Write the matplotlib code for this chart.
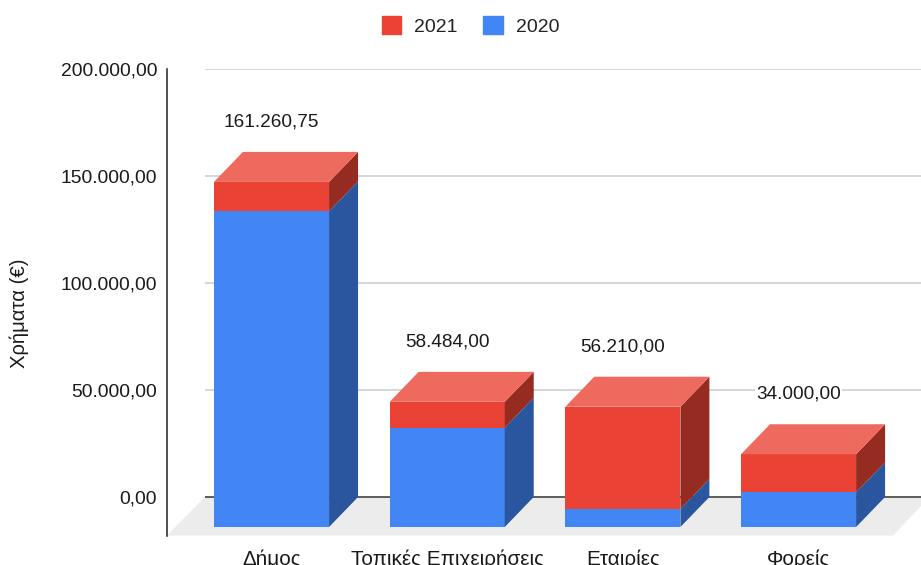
import matplotlib
matplotlib.use('Agg')
import matplotlib.pyplot as plt
from matplotlib.patches import Patch, Polygon

plt.rcParams['font.family'] = ['Liberation Sans', 'DejaVu Sans']

categories = ['Δήμος', 'Τοπικές Επιχειρήσεις', 'Εταιρίες', 'Φορείς']
vals_2020 = [147500, 46400, 8400, 16200]
vals_2021 = [13760.75, 12084, 47810, 17800]
total_labels = ['161.260,75', '58.484,00', '56.210,00', '34.000,00']
y_ticks = [0, 50000, 100000, 150000, 200000]
y_labels = ['0,00', '50.000,00', '100.000,00', '150.000,00', '200.000,00']

BLUE, BLUE_SIDE = '#4285f4', '#2a559f'
RED, RED_SIDE, RED_TOP = '#ea4335', '#962b22', '#ee6a5e'
W, H = 921, 565
bar_w = 0.655
# 3d look: how far the back of a bar sits from its front
depth_x = 0.165
depth_y = 14018
floor_x = 0.216


def box(ax, x, y0, y1, front, side, top=None):
    left, right = x - bar_w / 2, x + bar_w / 2
    ax.bar(x, y1 - y0, bar_w, bottom=y0, color=front, lw=0, zorder=3)
    ax.add_patch(Polygon([(right, y0), (right + depth_x, y0 + depth_y),
                          (right + depth_x, y1 + depth_y), (right, y1)],
                         color=side, lw=0, zorder=3))
    if top:
        ax.add_patch(Polygon([(left, y1), (left + depth_x, y1 + depth_y),
                              (right + depth_x, y1 + depth_y), (right, y1)],
                             color=top, lw=0, zorder=3))


fig = plt.figure(figsize=(W / 100, H / 100), dpi=100)
ax = fig.add_axes([167 / W, (H - 535.5) / H, (W - 167) / W, 466.5 / H])
xmin, xmax = -0.595, 3.697
ymin = -17990
ax.set_xlim(xmin, xmax)
ax.set_ylim(ymin, 200000)

# floor and back wall lines
ax.add_patch(Polygon([(xmin, ymin), (xmin + floor_x, 0), (xmax + 0.05, 0), (xmax - 0.16, ymin)],
                     color='#ececec', lw=0, zorder=1))
ax.hlines(y_ticks[1:], xmin + floor_x, xmax, color='#cccccc', lw=1.1, zorder=2)
ax.hlines(0, xmin + floor_x, xmax, color='#333333', lw=1.1, zorder=2)

for i in range(len(categories)):
    total = vals_2020[i] + vals_2021[i]
    box(ax, i, -depth_y, vals_2020[i] - depth_y, BLUE, BLUE_SIDE)
    box(ax, i, vals_2020[i] - depth_y, total - depth_y, RED, RED_SIDE, RED_TOP)
    ax.annotate(total_labels[i], (i, total), xytext=(0, 21.5), textcoords='offset points',
                ha='center', va='center', fontsize=13.7, color='#1a1a1a', zorder=4,
                bbox=dict(fc='white', ec='none', pad=1))

for s in ['top', 'right', 'bottom']:
    ax.spines[s].set_visible(False)
ax.spines['left'].set_linewidth(1.1)
ax.spines['left'].set_color('#222222')
ax.set_yticks(y_ticks, y_labels, fontsize=13.9, color='#1a1a1a')
ax.set_xticks(range(len(categories)), categories, fontsize=14.9, color='#1a1a1a')
ax.tick_params(axis='y', length=0, pad=7.2)
ax.tick_params(axis='x', length=0, pad=10)
fig.text(19 / W, 1 - 313 / H, 'Χρήματα (€)', rotation=90, ha='center', va='center',
         fontsize=14.6, color='#1a1a1a')

handles = [Patch(color=RED, label='2021'), Patch(color=BLUE, label='2020')]
fig.legend(handles=handles, ncol=2, loc='center', bbox_to_anchor=(470.5 / W, 1 - 26 / H), frameon=False,
           fontsize=14, handlelength=1.0, handleheight=1.03, handletextpad=0.68,
           columnspacing=1.3, labelcolor='#222222')

fig.savefig('out.png', dpi=100)
